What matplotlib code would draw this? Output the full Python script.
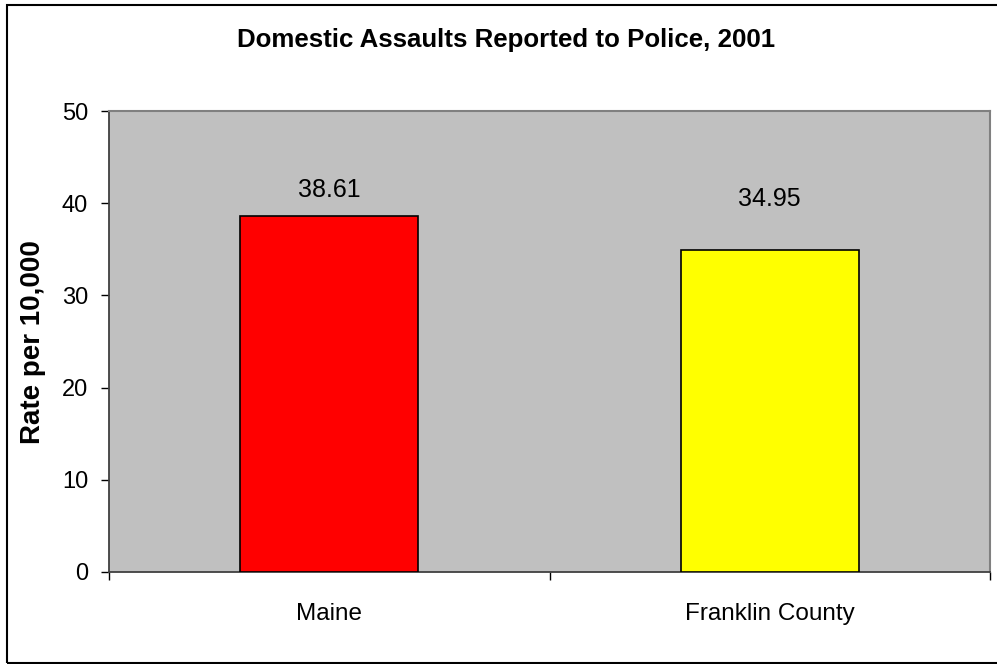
import matplotlib.pyplot as plt
from matplotlib.patches import Rectangle

plt.rcParams['font.family'] = ['Liberation Sans', 'DejaVu Sans']

categories = ["Maine", "Franklin County"]
values = [38.61, 34.95]
bar_colors = ["#FF0000", "#FFFF00"]
yticks = [0, 10, 20, 30, 40, 50]
# label baseline offsets above each bar (as placed in the original)
label_offsets = [2.1, 4.8]

fig = plt.figure(figsize=(9.97, 6.64), dpi=100)
W, H = 997, 664
ax = fig.add_axes([109 / W, 1 - 572 / H, (990 - 109) / W, (572 - 111) / H])
ax.set_facecolor("#C0C0C0")

x = range(len(categories))
ax.bar(x, values, width=0.404, color=bar_colors, edgecolor="black", linewidth=1.2, zorder=3)
for i, v in enumerate(values):
    ax.text(i, v + label_offsets[i], "%.2f" % v, ha="center", va="baseline", fontsize=18)

ax.set_xlim(-0.5, len(categories) - 0.5)
ax.set_ylim(0, 50)
ax.set_yticks(yticks)
ax.set_yticklabels([str(t) for t in yticks], fontsize=17)
ax.set_xticks([i - 0.5 for i in range(len(categories) + 1)])
ax.set_xticklabels([])
ax.set_xticks(list(x), minor=True)
ax.set_xticklabels(categories, minor=True, fontsize=17.5)
ax.tick_params(axis="x", which="minor", length=0, pad=22)
ax.tick_params(axis="x", which="major", length=6, width=1, color="black", direction="out")
ax.tick_params(axis="y", length=6, width=1, color="black", direction="out", pad=9)

for side in ["left", "bottom"]:
    ax.spines[side].set_color("#404040")
    ax.spines[side].set_linewidth(1.3)
for side in ["top", "right"]:
    ax.spines[side].set_color("#808080")
    ax.spines[side].set_linewidth(1.5)

fig.text(33 / W, 1 - 342 / H, "Rate per 10,000", rotation=90, ha="center", va="center",
         fontsize=20, fontweight="bold")
fig.text(506 / W, 1 - 40 / H, "Domestic Assaults Reported to Police, 2001",
         ha="center", va="center", fontsize=18.6, fontweight="bold")

# chart border (right edge falls outside the picture)
fig.patches.append(Rectangle((7 / W, 1 - 663 / H), (1020 - 7) / W, (663 - 5) / H,
                             transform=fig.transFigure, fill=False, edgecolor="black", linewidth=1.5))

fig.savefig("out.png", dpi=100)
